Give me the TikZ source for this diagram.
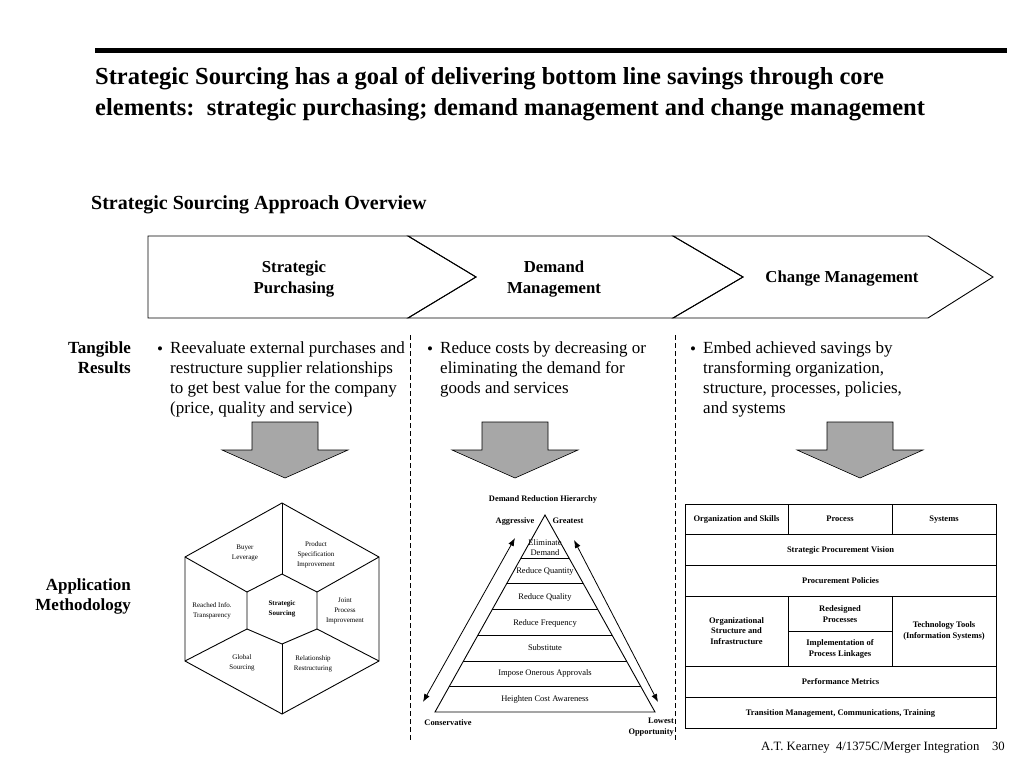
\documentclass[tikz,border=0pt]{standalone}
\usepackage{fontspec}
\setmainfont{Liberation Serif}
\usetikzlibrary{arrows.meta,calc}
\begin{document}
\begin{tikzpicture}[x=1pt,y=-1pt,
  lbl/.style={inner sep=0pt,align=center},
  chevtxt/.style={lbl,font=\fontsize{16.75}{21}\selectfont\bfseries},
  sidetxt/.style={inner sep=0pt,align=right,anchor=north east,font=\fontsize{17}{20}\selectfont\bfseries},
  bultxt/.style={inner sep=0pt,align=left,anchor=north west,font=\fontsize{17}{20.2}\selectfont},
  hextxt/.style={lbl,font=\fontsize{7}{10}\selectfont},
  pyrtxt/.style={lbl,font=\fontsize{8.5}{10}\selectfont},
  pyrbold/.style={lbl,font=\fontsize{8.4}{11}\selectfont\bfseries},
  oneline/.style={text height=6pt,text depth=2pt},
  tabtxt/.style={lbl,font=\fontsize{8.5}{10.5}\selectfont\bfseries},
  bigarrow/.style={draw=black,fill=gray!85!black!60,line width=0.6pt},
  divider/.style={line width=0.9pt,dash pattern=on 5pt off 3pt},
  outline/.style={draw=black,line width=0.9pt},
  dbl/.style={line width=0.8pt,{Latex[length=8pt,width=6pt]}-{Latex[length=8pt,width=6pt]}}
]
\useasboundingbox (0,0) rectangle (1024,768);

% top rule and titles
\draw[line width=5pt] (95,51) -- (1007,51);
\node[inner sep=0pt,align=left,anchor=north west,font=\fontsize{24.5}{31}\selectfont\bfseries] (title) at (95,67)
  {Strategic Sourcing has a goal of delivering bottom line savings through core\\
   elements:\ \ strategic purchasing; demand management and change management};
\node[inner sep=0pt,anchor=base west,font=\fontsize{20}{24}\selectfont\bfseries] (sub) at (91,209) {Strategic Sourcing Approach Overview};

% chevrons
\draw[outline] (148,236) -- (408,236) -- (476,277) -- (408,318) -- (148,318) -- cycle;
\draw[outline] (408,236) -- (673,236) -- (743,277) -- (673,318) -- (408,318) -- (476,277) -- cycle;
\draw[outline] (673,236) -- (928,236) -- (993,277) -- (928,318) -- (673,318) -- (743,277) -- cycle;
\node[chevtxt] (c1) at (294,279) {Strategic\\Purchasing};
\node[chevtxt] (c2) at (554,279) {Demand\\Management};
\node[chevtxt] (c3) at (842,279) {Change Management};

% side labels
\node[sidetxt] (tang) at (131,341) {Tangible\\Results};
\node[sidetxt] (appl) at (131,578) {Application\\Methodology};

% bullets
\node[bultxt] (b1d) at (157,347) {•};
\node[bultxt] (b1) at (170,341) {Reevaluate external purchases and\\restructure supplier relationships\\to get best value for the company\\(price, quality and service)};
\node[bultxt] (b2d) at (427,347) {•};
\node[bultxt] (b2) at (440,341) {Reduce costs by decreasing or\\eliminating the demand for\\goods and services};
\node[bultxt] (b3d) at (690,347) {•};
\node[bultxt] (b3) at (703,341) {Embed achieved savings by\\transforming organization,\\structure, processes, policies,\\and systems};

% dashed dividers
\draw[divider] (410,335) -- (410,742);
\draw[divider] (675,335) -- (675,742);

% gray arrows
\foreach \cx in {285,515,860}{
  \draw[bigarrow] (\cx-33,422) -- (\cx+33,422) -- (\cx+33,450) -- (\cx+63,450) -- (\cx,478)
    -- (\cx-63,450) -- (\cx-33,450) -- cycle;
}

% hexagon
\coordinate (oT) at (282,503);
\coordinate (oUR) at (379,557);
\coordinate (oLR) at (379,661);
\coordinate (oB) at (282,714);
\coordinate (oLL) at (185,661);
\coordinate (oUL) at (185,557);
\coordinate (iT) at (282,574);
\coordinate (iUR) at (317,592);
\coordinate (iLR) at (317,629);
\coordinate (iB) at (282,644);
\coordinate (iLL) at (247,629);
\coordinate (iUL) at (247,592);
\draw[outline] (oT) -- (oUR) -- (oLR) -- (oB) -- (oLL) -- (oUL) -- cycle;
\draw[outline] (iT) -- (iUR) -- (iLR) -- (iB) -- (iLL) -- (iUL) -- cycle;
\foreach \v in {T,UR,LR,B,LL,UL}{ \draw[outline] (i\v) -- (o\v); }
\node[hextxt] (h1) at (245,553) {Buyer\\Leverage};
\node[hextxt] (h2) at (316,555) {Product\\Specification\\Improvement};
\node[hextxt] (h3) at (212,611) {Reached Info.\\Transparency};
\node[hextxt,font=\fontsize{7}{10}\selectfont\bfseries] (h0) at (282,609) {Strategic\\Sourcing};
\node[hextxt] (h4) at (345,611) {Joint\\Process\\Improvement};
\node[hextxt] (h5) at (242,663) {Global\\Sourcing};
\node[hextxt] (h6) at (313,664) {Relationship\\Restructuring};

% pyramid
\node[pyrbold] (ptitle) at (543,499) {Demand Reduction Hierarchy};
\coordinate (apex) at (545,515);
\coordinate (bl) at (435,712);
\coordinate (br) at (655,712);
\draw[outline] (apex) -- (br) -- (bl) -- cycle;
\foreach \t in {0.218,0.348,0.480,0.609,0.741,0.871}{
  \draw[outline] ($(apex)!\t!(bl)$) -- ($(apex)!\t!(br)$);
}
\node[pyrtxt] (p1) at (545,548) {Eliminate\\Demand};
\node[pyrtxt,oneline] (p2) at (545,571) {Reduce Quantity};
\node[pyrtxt,oneline] (p3) at (545,597) {Reduce Quality};
\node[pyrtxt,oneline] (p4) at (545,623) {Reduce Frequency};
\node[pyrtxt,oneline] (p5) at (545,648) {Substitute};
\node[pyrtxt,oneline] (p6) at (545,673) {Impose Onerous Approvals};
\node[pyrtxt,oneline] (p7) at (545,699) {Heighten Cost Awareness};
\node[pyrbold,oneline] (agg) at (515,521) {Aggressive};
\node[pyrbold,oneline] (grt) at (568,521) {Greatest};
\node[pyrbold,oneline] (cons) at (448,723) {Conservative};
\node[pyrbold,align=right,anchor=north east] (low) at (674,718) {Lowest\\Opportunity};
\coordinate (la1) at (515,538);
\coordinate (la2) at (423,702);
\coordinate (ra1) at (574,540);
\coordinate (ra2) at (658,702);
\draw[dbl] (la1) -- (la2);
\draw[dbl] (ra1) -- (ra2);

% table
\draw[outline] (685,504) rectangle (996,728);
\foreach \y in {534.5,565.5,596,666.5,697.5}{ \draw[outline] (685,\y) -- (996,\y); }
\draw[outline] (788,504) -- (788,534.5);
\draw[outline] (892,504) -- (892,534.5);
\draw[outline] (788,596) -- (788,666.5);
\draw[outline] (892,596) -- (892,666.5);
\draw[outline] (788,631.5) -- (892,631.5);
\node[tabtxt,oneline] (t1) at (736.5,519.5) {Organization and Skills};
\node[tabtxt,oneline] (t2) at (840,519.5) {Process};
\node[tabtxt,oneline] (t3) at (944,519.5) {Systems};
\node[tabtxt,oneline] (t4) at (840.5,550) {Strategic Procurement Vision};
\node[tabtxt,oneline] (t5) at (840.5,581) {Procurement Policies};
\node[tabtxt] (t6) at (736.5,631) {Organizational\\Structure and\\Infrastructure};
\node[tabtxt] (t7) at (840,614) {Redesigned\\Processes};
\node[tabtxt] (t8) at (840,649) {Implementation of\\Process Linkages};
\node[tabtxt] (t9) at (944,631) {Technology Tools\\(Information Systems)};
\node[tabtxt,oneline] (t10) at (840.5,682) {Performance Metrics};
\node[tabtxt,oneline] (t11) at (840.5,713) {Transition Management, Communications, Training};

% footer
\node[inner sep=0pt,anchor=east,font=\fontsize{12.7}{15}\selectfont] (foot) at (1005,748)
  {A.T. Kearney\ \ 4/1375C/Merger Integration\ \ \ \ 30};
\end{tikzpicture}
\end{document}
